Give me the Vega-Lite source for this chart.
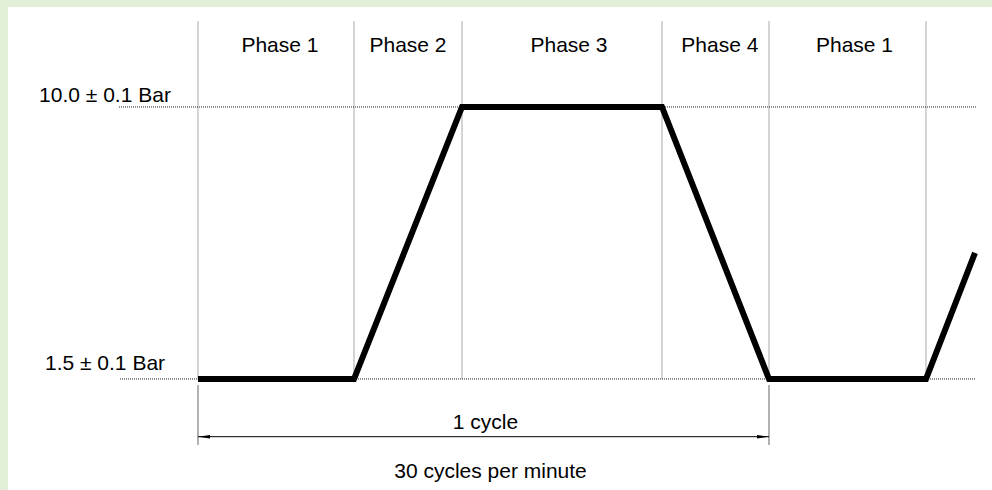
{
  "$schema": "https://vega.github.io/schema/vega-lite/v6.json",
  "autosize": {"type": "fit", "contains": "padding"},
  "width": 992,
  "height": 490,
  "padding": {"left": 8, "top": 7, "right": 0, "bottom": 0},
  "background": "#e2efd9",
  "config": {
    "view": {"stroke": null, "fill": "white"},
    "text": {"font": "Liberation Sans", "fontSize": 21, "color": "black"}
  },
  "datasets": {
    "pressure": [
      {"t": 0, "p": 1.5},
      {"t": 0.5464, "p": 1.5},
      {"t": 0.9247, "p": 10},
      {"t": 1.6252, "p": 10},
      {"t": 2.0, "p": 1.5},
      {"t": 2.5499, "p": 1.5},
      {"t": 2.7215, "p": 5.44}
    ],
    "phaseBounds": [
      {"t": 0, "p": 12.67, "p2": 1.5},
      {"t": 0.5464, "p": 12.67, "p2": 1.5},
      {"t": 0.9247, "p": 12.67, "p2": 1.5},
      {"t": 1.6252, "p": 12.67, "p2": 1.5},
      {"t": 2.0, "p": 12.67, "p2": 1.5},
      {"t": 2.5499, "p": 12.67, "p2": 1.5}
    ],
    "levels": [
      {"p": 10, "t": -0.2767, "t2": 2.725},
      {"p": 1.5, "t": -0.2732, "t2": 2.725}
    ],
    "extensions": [
      {"t": 0, "p": 1.3125, "p2": -0.5625},
      {"t": 2.0, "p": 1.3125, "p2": -0.5625}
    ],
    "dimension": [
      {"t": 0, "t2": 2.0, "p": -0.303}
    ],
    "arrows": [
      {"t": 0, "p": -0.303, "dir": "left"},
      {"t": 2.0, "p": -0.303, "dir": "right"}
    ],
    "phaseLabels": [
      {"t": 0.287, "p": 11.72, "label": "Phase 1"},
      {"t": 0.7356, "p": 11.72, "label": "Phase 2"},
      {"t": 1.2995, "p": 11.72, "label": "Phase 3"},
      {"t": 1.828, "p": 11.72, "label": "Phase 4"},
      {"t": 2.2995, "p": 11.72, "label": "Phase 1"}
    ],
    "levelLabels": [
      {"t": -0.3257, "p": 10.17, "label": "10.0 ± 0.1 Bar"},
      {"t": -0.3257, "p": 1.78, "label": "1.5 ± 0.1 Bar"}
    ],
    "notes": [
      {"t": 1.007, "p": -0.0625, "label": "1 cycle"},
      {"t": 1.0245, "p": -1.594, "label": "30 cycles per minute"}
    ]
  },
  "encoding": {
    "x": {"field": "t", "type": "quantitative", "axis": null,
          "scale": {"domain": [-0.6655, 2.7811], "nice": false, "zero": false}},
    "y": {"field": "p", "type": "quantitative", "axis": null,
          "scale": {"domain": [-1.969, 13.125], "nice": false, "zero": false}}
  },
  "layer": [
    {
      "data": {"name": "phaseBounds"},
      "mark": {"type": "rule", "color": "#555555", "strokeWidth": 1, "strokeDash": [1, 1]},
      "encoding": {"y2": {"field": "p2"}}
    },
    {
      "data": {"name": "levels"},
      "mark": {"type": "rule", "color": "#222222", "strokeWidth": 1, "strokeDash": [1, 1]},
      "encoding": {"x2": {"field": "t2"}}
    },
    {
      "data": {"name": "extensions"},
      "mark": {"type": "rule", "color": "#666666", "strokeWidth": 1},
      "encoding": {"y2": {"field": "p2"}}
    },
    {
      "data": {"name": "dimension"},
      "mark": {"type": "rule", "color": "black", "strokeWidth": 1},
      "encoding": {"x2": {"field": "t2"}}
    },
    {
      "data": {"name": "arrows"},
      "transform": [{"filter": "datum.dir == 'left'"}],
      "mark": {"type": "point", "filled": true, "color": "black", "opacity": 1, "size": 144,
               "shape": "M0,0L2,-0.3L2,0.3Z", "strokeWidth": 0}
    },
    {
      "data": {"name": "arrows"},
      "transform": [{"filter": "datum.dir == 'right'"}],
      "mark": {"type": "point", "filled": true, "color": "black", "opacity": 1, "size": 144,
               "shape": "M0,0L-2,-0.3L-2,0.3Z", "strokeWidth": 0}
    },
    {
      "data": {"name": "pressure"},
      "mark": {"type": "line", "color": "black", "strokeWidth": 6, "strokeJoin": "miter", "strokeCap": "butt"}
    },
    {
      "data": {"name": "phaseLabels"},
      "mark": {"type": "text", "align": "center", "baseline": "alphabetic"},
      "encoding": {"text": {"field": "label"}}
    },
    {
      "data": {"name": "levelLabels"},
      "mark": {"type": "text", "align": "center", "baseline": "alphabetic"},
      "encoding": {"text": {"field": "label"}}
    },
    {
      "data": {"name": "notes"},
      "mark": {"type": "text", "align": "center", "baseline": "alphabetic"},
      "encoding": {"text": {"field": "label"}}
    }
  ]
}
